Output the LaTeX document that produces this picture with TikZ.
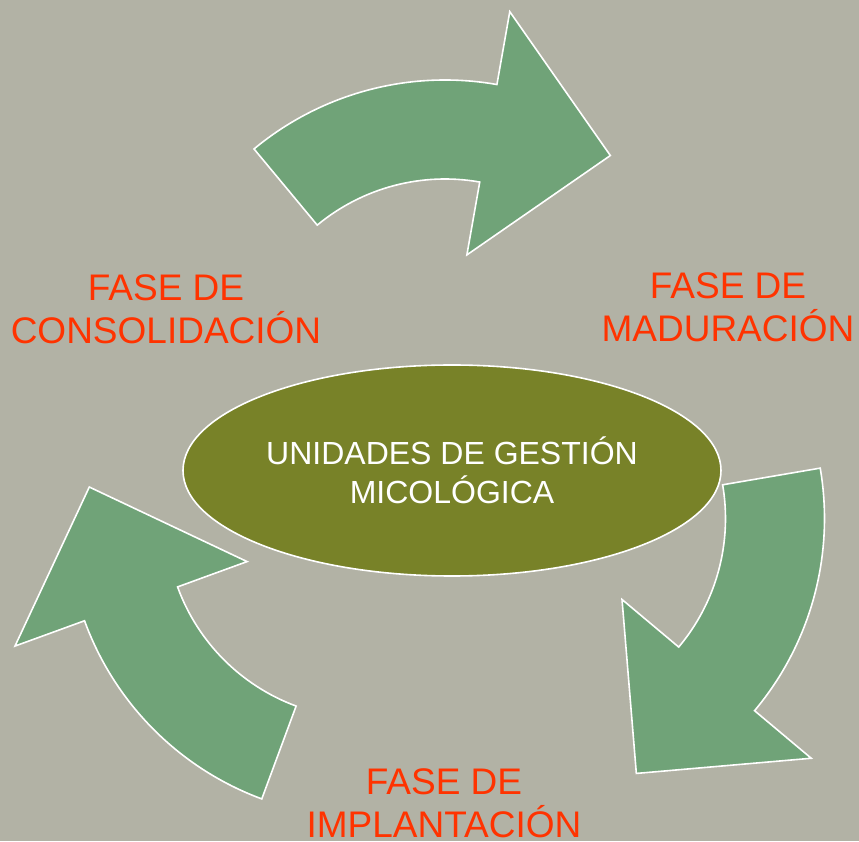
\documentclass[tikz,border=0pt]{standalone}
\usepackage{fontspec}
\setmainfont{Liberation Sans}
\definecolor{bggray}{RGB}{178,178,165}
\definecolor{arrowgreen}{RGB}{112,163,120}
\definecolor{hubolive}{RGB}{120,130,40}
\definecolor{phasered}{RGB}{255,51,0}
\tikzset{cyclearrow/.style = {fill=arrowgreen, draw=white, line width=1.6pt, line join=miter},
         phase/.style = {text=phasered, align=center, inner sep=0pt, font=\fontsize{37}{43}\selectfont}}
\usetikzlibrary{shapes.geometric}

\begin{document}
\begin{tikzpicture}[x = 1pt, y = 1pt]
\fill[bggray] (0,0) rectangle (859,841);
\useasboundingbox (0,0) rectangle (859,841);
% the three curved arrows of the cycle
\draw[cyclearrow, shift={(445,462)}] (129.7:299) arc[start angle=129.7, end angle=80, radius=299] -- (80:373) -- (53.5:278) -- (80:126) -- (80:200) arc[start angle=80, end angle=129.7, radius=200] -- cycle;
\draw[cyclearrow, shift={(525.5,322.5)}] (9.7:299) arc[start angle=9.7, end angle=-40, radius=299] -- (-40:373) -- (-66.5:278) -- (-40:126) -- (-40:200) arc[start angle=-40, end angle=9.7, radius=200] -- cycle;
\draw[cyclearrow, shift={(365.5,322.5)}] (-110.3:299) arc[start angle=-110.3, end angle=-160, radius=299] -- (-160:373) -- (-186.5:278) -- (-160:126) -- (-160:200) arc[start angle=-160, end angle=-110.3, radius=200] -- cycle;
% centre
\node[ellipse, fill=hubolive, draw=white, line width=1.6pt, minimum width=538pt, minimum height=211pt, inner sep=0pt, text=white, align=center, font=\fontsize{32}{39.5}\selectfont] (hub) at (452,370.5) {UNIDADES DE GESTIÓN\\MICOLÓGICA};
% phase labels
\node[phase] (consolidacion) at (166,532) {FASE DE\\CONSOLIDACIÓN};
\node[phase] (maduracion) at (728,534) {FASE DE\\MADURACIÓN};
\node[phase] (implantacion) at (444,38) {FASE DE\\IMPLANTACIÓN};
\end{tikzpicture}
\end{document}
